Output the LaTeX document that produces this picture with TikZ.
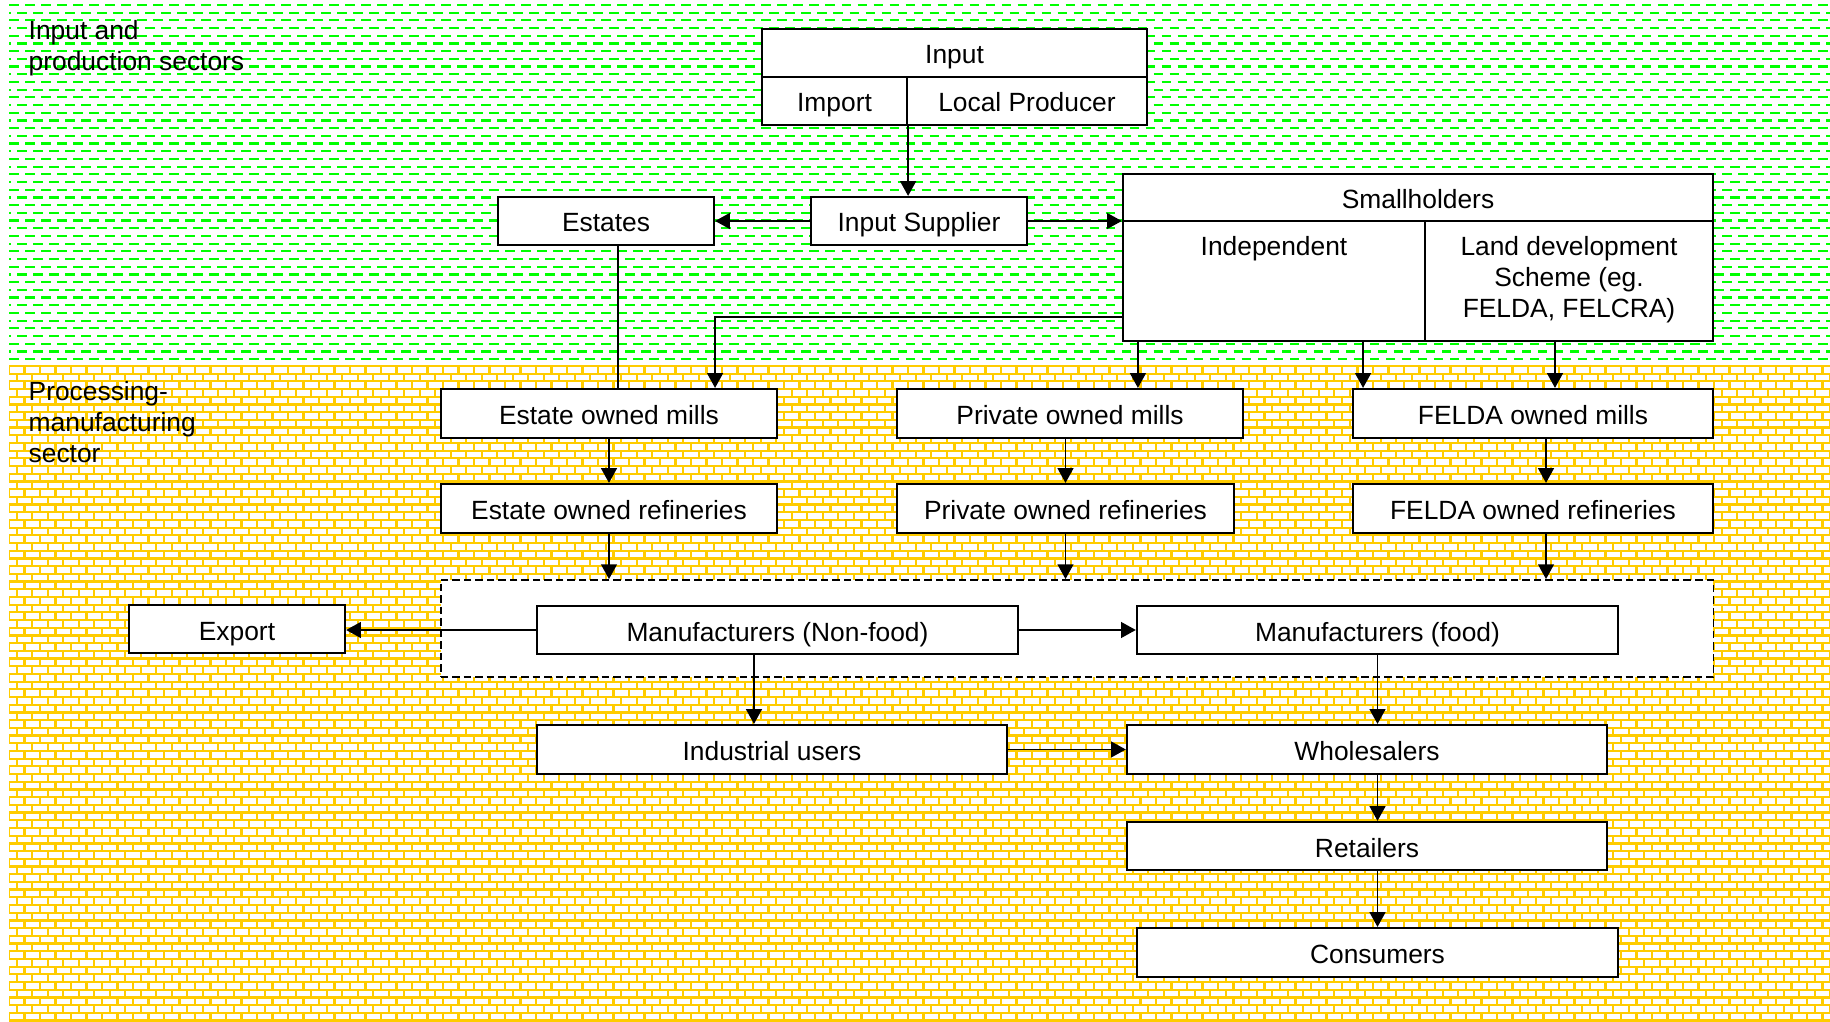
\documentclass[tikz,border=0pt]{standalone}
\usepackage{fontspec}
\setmainfont{Liberation Sans}
\usetikzlibrary{arrows.meta,positioning}
\definecolor{patgreen}{RGB}{0,255,0}
\definecolor{patbrick}{RGB}{255,204,0}
\tikzstyle{process} = [rectangle, minimum height=0.48cm, text height=0.26cm, text depth=0.04cm, text centered, draw=black, fill=white, line width=0.6pt, inner sep=0pt, font=\fontsize{7.5}{8.8}\selectfont]
\tikzstyle{celltext} = [anchor=north, yshift=-0.157cm, inner sep=0pt, align=center, font=\fontsize{7.5}{8.8}\selectfont]
\tikzstyle{sector} = [anchor=north west, align=left, inner sep=0pt, font=\fontsize{7.5}{8.8}\selectfont]
\tikzstyle{dashbox} = [rectangle, draw=black, fill=white, line width=0.5pt, dash pattern=on 0.075cm off 0.04cm]
\tikzstyle{arrow} = [line width=0.5pt,-{Triangle[length=4.2pt,width=4.5pt]}]
\tikzstyle{link} = [line width=0.5pt]
\tikzstyle{hatch} = [patgreen, line width=0.022cm, dash pattern=on 0.095cm off 0.065cm]
\tikzstyle{brick} = [patbrick, line width=0.022cm]
\begin{document}
\begin{tikzpicture}[x=0.01cm, y=-0.01cm]
	\useasboundingbox (0,0) rectangle (1830,1022);
	% sector backgrounds
	\begin{scope}
		\clip (9,0) rectangle (1830,366);
		\foreach \k in {0,...,46} {
			\pgfmathsetmacro\gph{mod(\k,2)*0.08}
			\draw [hatch, dash phase=\gph cm] (9,5+7.7*\k) -- (1830,5+7.7*\k);
		}
	\end{scope}
	\begin{scope}
		\clip (9,366) rectangle (1830,1022);
		\foreach \k in {0,...,85}
			\draw [brick] (9,366+7.7*\k) -- (1830,366+7.7*\k);
		\foreach \i in {0,...,235} {
			\pgfmathsetmacro\bph{mod(\i,2)*0.077}
			\draw [brick, dash pattern=on 0.077cm off 0.077cm, dash phase=\bph cm] (9+7.75*\i,366) -- (9+7.75*\i,1022);
		}
	\end{scope}
	\node (sec1) [sector] at (28,20) {Input and\\production sectors};
	\node (sec2) [sector] at (28,381) {Processing-\\manufacturing\\sector};
	% input and production
	\node (input) [process, minimum width=3.85cm] at (954.5,53) {Input};
	\node (import) [process, minimum width=1.45cm] at (834.5,101) {Import};
	\node (local) [process, minimum width=2.40cm] at (1027,101) {Local Producer};
	\node (supplier) [process, minimum width=2.16cm] at (919,221) {Input Supplier};
	\node (estates) [process, minimum width=2.16cm] at (606,221) {Estates};
	\node (small) [process, minimum width=5.90cm, minimum height=0.47cm] at (1418,197.5) {Smallholders};
	\node (indep) [process, minimum width=3.02cm, minimum height=1.20cm, label={[celltext]north:Independent}] at (1274,281) {};
	\node (landdev) [process, minimum width=2.88cm, minimum height=1.20cm, label={[celltext]north:Land development\\Scheme (eg.\\FELDA, FELCRA)}] at (1569,281) {};
	% processing and manufacturing
	\node (estmill) [process, minimum width=3.36cm, minimum height=0.49cm] at (609,413.5) {Estate owned mills};
	\node (privmill) [process, minimum width=3.46cm, minimum height=0.49cm] at (1070,413.5) {Private owned mills};
	\node (felmill) [process, minimum width=3.60cm, minimum height=0.49cm] at (1533,413.5) {FELDA owned mills};
	\node (estref) [process, minimum width=3.36cm, minimum height=0.49cm] at (609,508.5) {Estate owned refineries};
	\node (privref) [process, minimum width=3.37cm, minimum height=0.49cm] at (1065.5,508.5) {Private owned refineries};
	\node (felref) [process, minimum width=3.60cm, minimum height=0.49cm] at (1533,508.5) {FELDA owned refineries};
	\node (manuf) [dashbox, minimum width=12.72cm, minimum height=0.97cm] at (1077,628.5) {};
	\node (nonfood) [process, minimum width=4.81cm] at (777.5,630) {Manufacturers (Non-food)};
	\node (food) [process, minimum width=4.81cm] at (1377.5,630) {Manufacturers (food)};
	\node (export) [process, minimum width=2.16cm] at (237,629) {Export};
	\node (indus) [process, minimum width=4.70cm, minimum height=0.49cm] at (772,749.5) {Industrial users};
	\node (whole) [process, minimum width=4.80cm, minimum height=0.49cm] at (1367,749.5) {Wholesalers};
	\node (retail) [process, minimum width=4.80cm] at (1367,846) {Retailers};
	\node (consum) [process, minimum width=4.81cm, minimum height=0.49cm] at (1377.5,952.5) {Consumers};
	% flows
	\draw [arrow] (import.south east) -- (import.south east |- supplier.north);
	\draw [arrow] (supplier.west) -- (estates.east);
	\draw [arrow] (supplier.east) -- (supplier.east -| small.west);
	\draw [link] ([xshift=0.12cm]estates.south) -- ([xshift=0.12cm]estates.south |- estmill.north);
	\draw [arrow] ([yshift=-0.36cm]indep.west) -| ([xshift=1.06cm]estmill.north);
	\draw [arrow] ([xshift=-1.36cm]indep.south) -- ([xshift=-1.36cm]indep.south |- privmill.north);
	\draw [arrow] ([xshift=0.89cm]indep.south) -- ([xshift=0.89cm]indep.south |- felmill.north);
	\draw [arrow] ([xshift=-0.14cm]landdev.south) -- ([xshift=-0.14cm]landdev.south |- felmill.north);
	\draw [arrow] (estmill.south) -- (estref.north);
	\draw [arrow] (privmill.south -| privref.north) -- (privref.north);
	\draw [arrow] ([xshift=0.13cm]felmill.south) -- ([xshift=0.13cm]felref.north);
	\draw [arrow] (estref.south) -- (estref.south |- manuf.north);
	\draw [arrow] (privref.south) -- (privref.south |- manuf.north);
	\draw [arrow] ([xshift=0.13cm]felref.south) -- ([xshift=0.13cm]felref.south |- manuf.north);
	\draw [arrow] (nonfood.west) -- (nonfood.west -| export.east);
	\draw [arrow] (nonfood.east) -- (food.west);
	\draw [arrow] ([xshift=-0.235cm]nonfood.south) -- ([xshift=-0.235cm]nonfood.south |- indus.north);
	\draw [arrow] (indus.east) -- (whole.west);
	\draw [arrow] (food.south) -- (food.south |- whole.north);
	\draw [arrow] (whole.south -| food.south) -- (retail.north -| food.south);
	\draw [arrow] (retail.south -| consum.north) -- (consum.north);
\end{tikzpicture}
\end{document}
